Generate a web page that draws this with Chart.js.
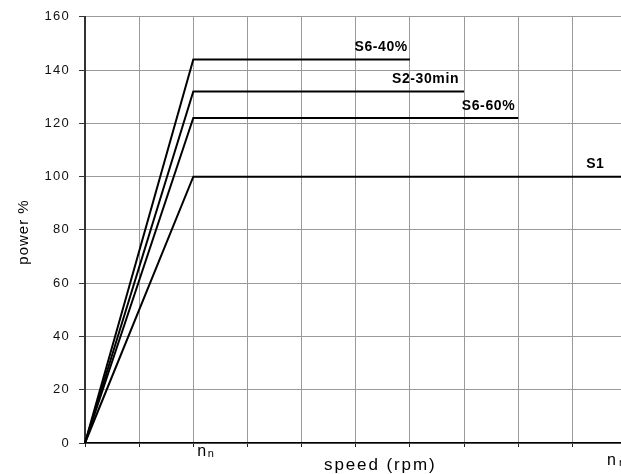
<!DOCTYPE html>
<html>
<head>
<meta charset="utf-8">
<script src="https://cdn.jsdelivr.net/npm/chart.js@4"></script>
<style>
  html, body { margin: 0; padding: 0; background: #fff; overflow: hidden; width: 621px; height: 474px; }
  canvas { display: block; }
</style>
</head>
<body>
<canvas id="c" width="632" height="474"></canvas>
<script>
// Duty-type power curves: power rises linearly up to rated speed, then stays flat.
const seriesNames = ['S6-40%', 'S2-30min', 'S6-60%', 'S1'];
const powerPct    = [144, 132, 122, 100];
const speedEnd    = [6, 7, 8, 10];
const ratedSpeed  = 2;
const speedMax    = 10;
const powerMax    = 160;
const powerStep   = 20;

const FONT = "'Liberation Sans', Arial, sans-serif";

const datasets = seriesNames.map((name, i) => ({
  label: name,
  data: [
    { x: 0, y: 0 },
    { x: ratedSpeed, y: powerPct[i] },
    { x: speedEnd[i], y: powerPct[i] }
  ],
  showLine: true,
  borderColor: '#000',
  borderWidth: 2,
  pointRadius: 0,
  pointHoverRadius: 0,
  tension: 0,
  fill: false,
  clip: false
}));

// widen glyph spacing for the axis tick labels drawn by Chart.js
const spacing = {
  id: 'spacing',
  beforeDraw(chart) { chart.ctx.letterSpacing = '1.3px'; },
  afterDraw(chart) { chart.ctx.letterSpacing = '0px'; }
};

// curve names above the flat part of each line
const curveNames = {
  id: 'curveNames',
  afterDatasetsDraw(chart) {
    const { ctx, scales: { x, y } } = chart;
    const shift = [-2, -5, -3, -22];
    ctx.save();
    ctx.font = `bold 14px ${FONT}`;
    ctx.letterSpacing = '0.6px';
    ctx.fillStyle = '#000';
    ctx.textAlign = 'right';
    ctx.textBaseline = 'alphabetic';
    seriesNames.forEach((name, i) => {
      const px = x.getPixelForValue(speedEnd[i]) + shift[i];
      const py = y.getPixelForValue(powerPct[i]) - 8.5;
      ctx.fillText(name, px, py);
    });
    ctx.restore();
  }
};

// axis titles and the speed markers under the x axis
const axisText = {
  id: 'axisText',
  afterDraw(chart) {
    const { ctx, scales: { x, y } } = chart;
    ctx.save();
    ctx.fillStyle = '#000';
    ctx.textBaseline = 'alphabetic';

    // x title
    ctx.font = `17px ${FONT}`;
    ctx.letterSpacing = '1.9px';
    ctx.textAlign = 'left';
    ctx.fillText('speed (rpm)', 324, 469.5);

    // y title
    ctx.save();
    ctx.font = `15px ${FONT}`;
    ctx.letterSpacing = '1px';
    ctx.textAlign = 'center';
    ctx.translate(28, 232);
    ctx.rotate(-Math.PI / 2);
    ctx.fillText('power %', 0, 0);
    ctx.restore();

    // rated speed marker n_n
    const nx = x.getPixelForValue(ratedSpeed) + 4;
    ctx.letterSpacing = '0px';
    ctx.textAlign = 'left';
    ctx.font = `16px ${FONT}`;
    ctx.fillText('n', nx, 456);
    let w = ctx.measureText('n').width;
    ctx.font = `11px ${FONT}`;
    ctx.fillText('n', nx + w + 1.5, 456.5);

    // maximum speed marker
    const mx = x.getPixelForValue(speedMax) - 19.5;
    ctx.font = `16px ${FONT}`;
    ctx.fillText('n', mx, 465);
    w = ctx.measureText('n').width;
    ctx.font = `11px ${FONT}`;
    ctx.fillText('max', mx + w + 3, 465.5);
    ctx.restore();
  }
};

new Chart(document.getElementById('c'), {
  type: 'scatter',
  data: { datasets },
  plugins: [spacing, curveNames, axisText],
  options: {
    responsive: false,
    animation: false,
    events: [],
    layout: { padding: { top: 14, right: 5.5, left: 0, bottom: 0 } },
    plugins: {
      legend: { display: false },
      tooltip: { enabled: false },
      title: { display: false }
    },
    scales: {
      x: {
        type: 'linear',
        min: 0,
        max: speedMax,
        afterFit(scale) { scale.height = 31; },
        ticks: { display: false, stepSize: 1 },
        grid: { color: '#9a9a9a', lineWidth: 1, tickLength: 4, tickColor: '#222', drawTicks: true },
        border: { color: '#000', width: 1.5 }
      },
      y: {
        type: 'linear',
        min: 0,
        max: powerMax,
        afterFit(scale) { scale.width = 85; },
        ticks: {
          stepSize: powerStep,
          padding: 9,
          color: '#111',
          font: { family: FONT, size: 13 }
        },
        grid: { color: '#9a9a9a', lineWidth: 1, tickLength: 6, tickColor: '#333', drawTicks: true },
        border: { color: '#333', width: 2 }
      }
    }
  }
});
</script>
</body>
</html>
